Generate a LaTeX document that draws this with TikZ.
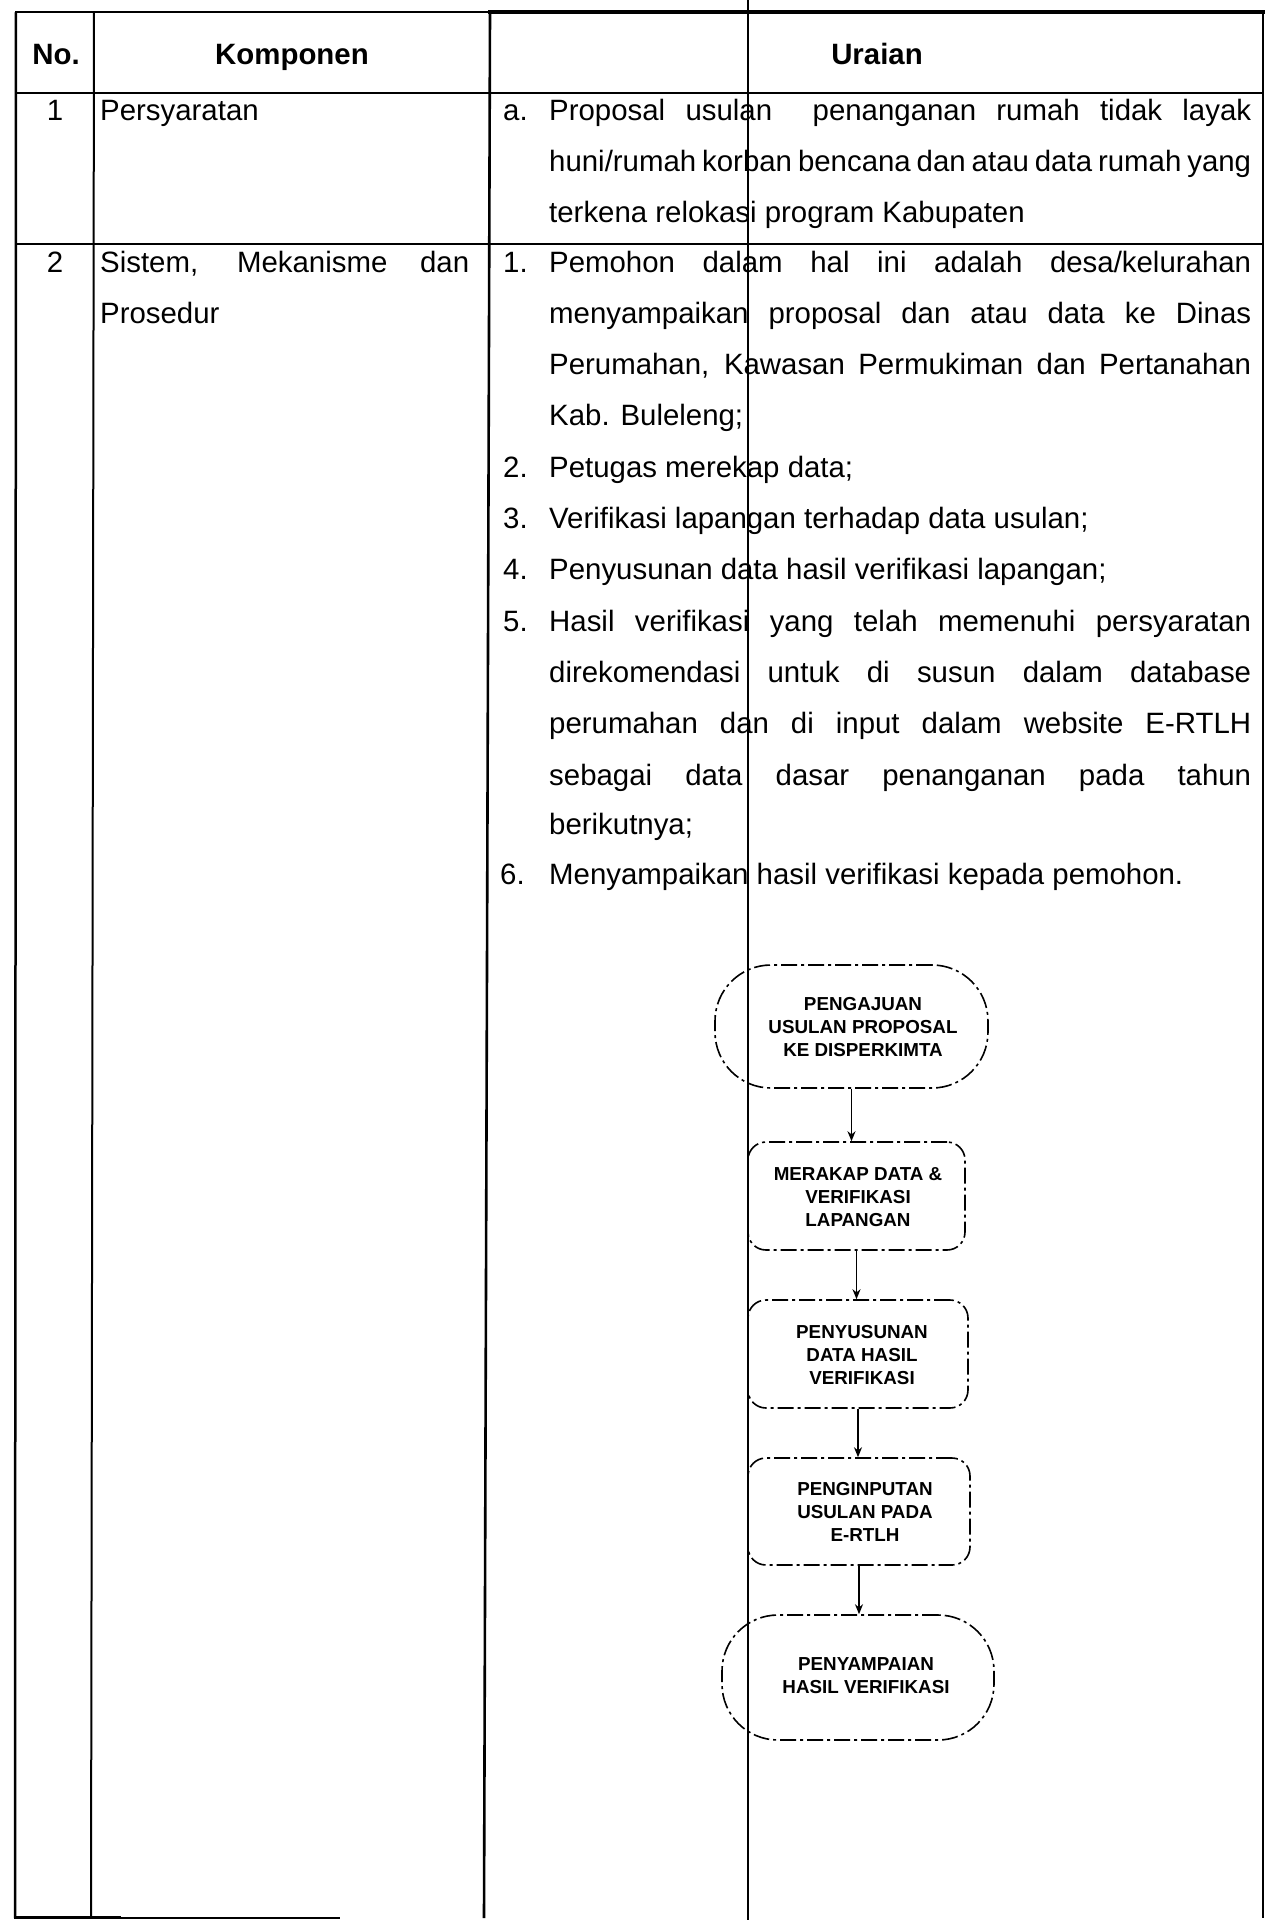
\documentclass[tikz,border=0pt]{standalone}
\usepackage{fontspec}
\setmainfont{Liberation Sans}
\usetikzlibrary{arrows.meta}
\newcommand{\bodyfont}{\fontsize{29.4pt}{35pt}\selectfont}
\newcommand{\flowfont}{\fontsize{18.8pt}{22.8pt}\selectfont\bfseries}
\newcommand{\jline}[1]{\hbox to 702pt{#1}}
\tikzset{
  txt/.style={anchor=base west, inner sep=0pt, font=\bodyfont},
  num/.style={anchor=base west, inner sep=0pt, font=\bodyfont},
  ctr/.style={anchor=base, inner sep=0pt, font=\bodyfont},
  hdr/.style={anchor=base, inner sep=0pt, font=\bodyfont\bfseries},
  flowbox/.style={draw, line width=1.6pt, dash pattern=on 16pt off 4pt on 3pt off 4pt, rounded corners=18pt, inner sep=0pt},
  stadium/.style={flowbox, rounded corners=56pt},
  flowtxt/.style={align=center, font=\flowfont, inner sep=0pt},
  conn/.style={line width=1.8pt, -{Stealth[length=10pt,width=8pt]}},
}
\begin{document}
\begin{tikzpicture}[x=1pt,y=-1pt]
\useasboundingbox (0,0) rectangle (1267,1920);
% table lines
\draw[line width=2.5pt, line cap=rect] (16,12) -- (490,12);
\draw[line width=4pt, line cap=rect] (490,12) -- (1263,12);
\draw[line width=2pt] (16,93) -- (1263,93);
\draw[line width=2pt] (16,244) -- (1263,244);
\draw[line width=2.5pt] (16,12) -- (15,1918);
\draw[line width=2pt] (94,12) -- (91,1918);
\draw[line width=2.6pt] (490,12) -- (484,1918);
\draw[line width=2pt] (1263,12) -- (1263,1918);
\draw[line width=3pt] (14,1917) -- (121,1917);
\draw[line width=1.5pt] (121,1918) -- (340,1918);
\draw[line width=1.2pt] (748,0) -- (748,1920);
% header
\node[hdr] (hno) at (56,64) {No.};
\node[hdr] (hkomp) at (292,64) {Komponen};
\node[hdr] (hur) at (877,64) {Uraian};
% row 1
\node[ctr] (n1) at (55,120) {1};
\node[txt] (k1) at (100,120) {Persyaratan};
\node[num] (ua) at (503,120) {a.};
\node[txt] (u1a) at (549,120) {\jline{Proposal usulan \ penanganan rumah tidak layak}};
\node[txt] (u1b) at (549,171) {\jline{huni/rumah korban bencana dan atau data rumah yang}};
\node[txt] (u1c) at (549,222) {terkena relokasi program Kabupaten};
% row 2
\node[ctr] (n2) at (55,272) {2};
\node[txt] (k2a) at (100,272) {\hbox to 369pt{Sistem, Mekanisme dan}};
\node[txt] (k2b) at (100,323.3) {Prosedur};
\node[num] (s1) at (503,272) {1.};
\node[txt] (s1a) at (549,272) {\jline{Pemohon dalam hal ini adalah desa/kelurahan}};
\node[txt] (s1b) at (549,323.3) {\jline{menyampaikan proposal dan atau data ke Dinas}};
\node[txt] (s1c) at (549,374.6) {\jline{Perumahan, Kawasan Permukiman dan Pertanahan}};
\node[txt] (s1d) at (549,425.9) {Kab. Buleleng;};
\node[num] (s2) at (503,477.2) {2.};
\node[txt] (s2a) at (549,477.2) {Petugas merekap data;};
\node[num] (s3) at (503,528.5) {3.};
\node[txt] (s3a) at (549,528.5) {Verifikasi lapangan terhadap data usulan;};
\node[num] (s4) at (503,579.8) {4.};
\node[txt] (s4a) at (549,579.8) {Penyusunan data hasil verifikasi lapangan;};
\node[num] (s5) at (503,631.1) {5.};
\node[txt] (s5a) at (549,631.1) {\jline{Hasil verifikasi yang telah memenuhi persyaratan}};
\node[txt] (s5b) at (549,682.4) {\jline{direkomendasi untuk di susun dalam database}};
\node[txt] (s5c) at (549,733.7) {\jline{perumahan dan di input dalam website E-RTLH}};
\node[txt] (s5d) at (549,785) {\jline{sebagai data dasar penanganan pada tahun}};
\node[txt] (s5e) at (549,834) {berikutnya;};
\node[num] (s6) at (500,884) {6.};
\node[txt] (s6a) at (549,884) {Menyampaikan hasil verifikasi kepada pemohon.};
% flowchart
\node[stadium, minimum width=273pt, minimum height=123pt] (b1) at (851.5,1026.5) {};
\node[flowbox, minimum width=217pt, minimum height=108pt] (b2) at (856.5,1196) {};
\node[flowbox, minimum width=220pt, minimum height=108pt] (b3) at (858,1354) {};
\node[flowbox, minimum width=222pt, minimum height=107pt] (b4) at (859,1511.5) {};
\node[stadium, minimum width=272pt, minimum height=125pt] (b5) at (858,1677.5) {};
\node[flowtxt] (t1) at (863,1027) {PENGAJUAN\\USULAN PROPOSAL\\KE DISPERKIMTA};
\node[flowtxt] (t2) at (858,1197) {MERAKAP DATA \&\\VERIFIKASI\\LAPANGAN};
\node[flowtxt] (t3) at (862,1355) {PENYUSUNAN\\DATA HASIL\\VERIFIKASI};
\node[flowtxt] (t4) at (865,1512) {PENGINPUTAN\\USULAN PADA\\E-RTLH};
\node[flowtxt] (t5) at (866,1676) {PENYAMPAIAN\\HASIL VERIFIKASI};
\draw[conn] (b1.south) -- (b1.south |- b2.north);
\draw[conn] (b2.south) -- (b2.south |- b3.north);
\draw[conn] (b3.south) -- (b3.south |- b4.north);
\draw[conn] (b4.south) -- (b4.south |- b5.north);
\end{tikzpicture}
\end{document}
